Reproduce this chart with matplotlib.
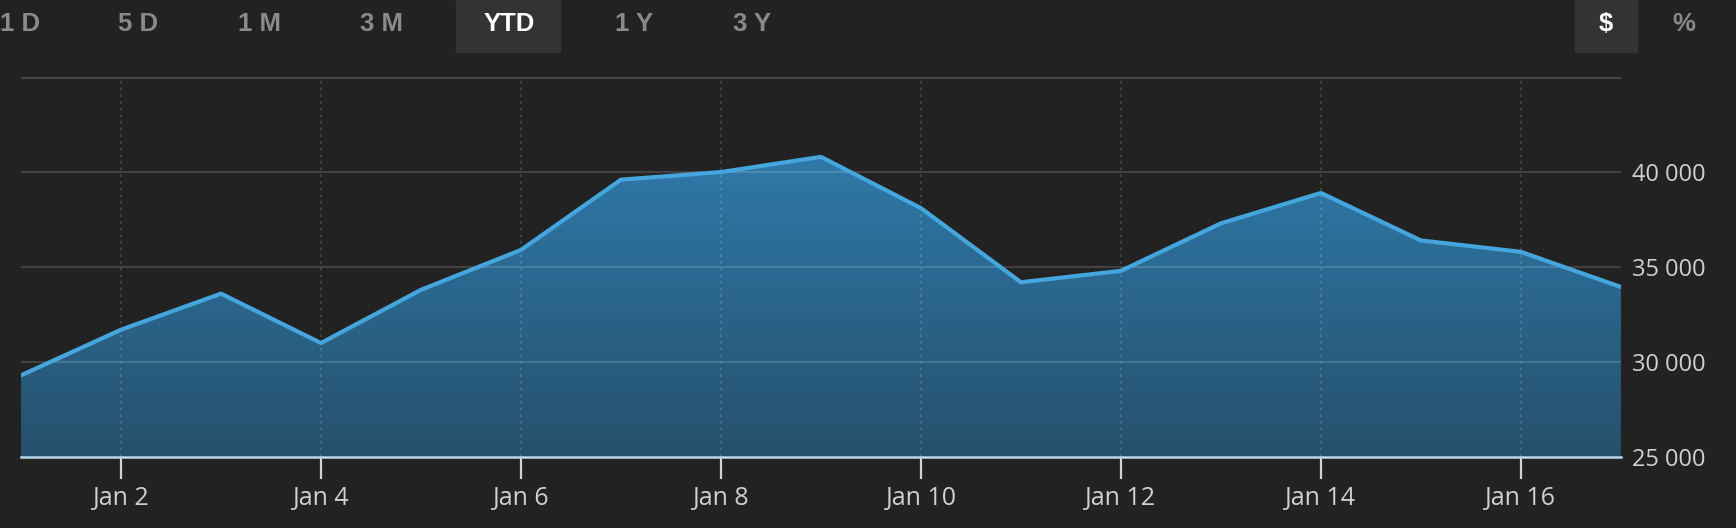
import numpy as np
import pandas as pd
import matplotlib
matplotlib.use('Agg')
import matplotlib.pyplot as plt
import matplotlib.dates as mdates
from matplotlib.colors import LinearSegmentedColormap
from matplotlib.patches import Rectangle

# данные
dates = pd.date_range('2024-01-01', '2024-01-17', freq='D')
values = [29300, 31700, 33600, 31000, 33800, 35900, 39600, 40000, 40800,
          38100, 34200, 34800, 37300, 38900, 36400, 35800, 33950]
tick_days = [2, 4, 6, 8, 10, 12, 14, 16]
y_ticks = [25000, 30000, 35000, 40000, 45000]
range_buttons = ['1 D', '5 D', '1 M', '3 M', 'YTD', '1 Y', '3 Y']
active_range = 'YTD'
unit_buttons = ['$', '%']
active_unit = '$'

bg = '#222222'
line_color = '#45a5dd'

fig = plt.figure(figsize=(17.36, 5.28), dpi=100, facecolor=bg)
ax = fig.add_axes([0.0121, 0.1345, 0.9216, 0.7195])
ax.set_facecolor(bg)

x = mdates.date2num(dates)
ymin, ymax = 25000, 45000
ax.set_xlim(x[0], x[-1])
ax.set_ylim(ymin, ymax)

# градиентная заливка
cmap = LinearSegmentedColormap.from_list('g', ['#26506b', '#2b6a93', '#3284b8'])
grad = np.linspace(0, 1, 256).reshape(-1, 1)
im = ax.imshow(grad, cmap=cmap, aspect='auto', origin='lower',
               extent=[x[0], x[-1], ymin, ymax], zorder=1)
clip = plt.Polygon(np.vstack([np.column_stack([x, values]),
                              [[x[-1], ymin], [x[0], ymin]]]),
                   transform=ax.transData, facecolor='none', edgecolor='none')
ax.add_patch(clip)
im.set_clip_path(clip)

# сетка
for yv in y_ticks[1:-1]:
    ax.axhline(yv, color='white', alpha=0.15, lw=1.5, zorder=2)
ax.axhline(ymax, color='#4a4a4a', lw=2, zorder=2)
tick_pos = [mdates.date2num(pd.Timestamp(2024, 1, d)) for d in tick_days]
for tp in tick_pos:
    ax.axvline(tp, color='white', alpha=0.18, lw=1.2, ls=(0, (1.5, 2.5)), zorder=2)

ax.plot(x, values, color=line_color, lw=3, zorder=3, solid_joinstyle='round')

for s in ['top', 'left', 'right']:
    ax.spines[s].set_visible(False)
ax.spines['bottom'].set_color('#bcd6e8')
ax.spines['bottom'].set_linewidth(1.8)
ax.spines['bottom'].set_zorder(4)

ax.set_xticks(tick_pos)
ax.set_xticklabels([f'Jan {d}' for d in tick_days])
ax.tick_params(axis='x', length=16, width=1.6, color='#c8d6e0', pad=5,
               labelcolor='#d0d0d0', labelsize=18)
for lbl in ax.get_xticklabels():
    lbl.set_fontfamily('Open Sans')

ax.yaxis.tick_right()
ax.set_yticks(y_ticks[:-1])
ax.set_yticklabels([f'{v:,}'.replace(',', ' ') for v in y_ticks[:-1]])
ax.tick_params(axis='y', length=0, pad=8, labelcolor='#d0d0d0', labelsize=17)
for lbl in ax.get_yticklabels():
    lbl.set_fontfamily('Open Sans')

# кнопки сверху
W, H = 1736, 528
range_x = [20, 138, 259, 382, 509, 634, 752]
for label, bx in zip(range_buttons, range_x):
    active = label == active_range
    if active:
        fig.patches.append(Rectangle((456 / W, 1 - 52 / H), 104 / W, 52 / H,
                                     transform=fig.transFigure, color='#333333', zorder=0))
    fig.text(bx / W, 1 - 24 / H, label, ha='center', va='center',
             fontsize=18.5, fontweight='bold', family='Liberation Sans',
             color='white' if active else '#8a8a8a')

unit_x = [1606, 1684]
for label, bx in zip(unit_buttons, unit_x):
    active = label == active_unit
    if active:
        fig.patches.append(Rectangle((1575 / W, 1 - 52 / H), 62 / W, 52 / H,
                                     transform=fig.transFigure, color='#333333', zorder=0))
    fig.text(bx / W, 1 - 24 / H, label, ha='center', va='center',
             fontsize=18.5, fontweight='bold', family='Liberation Sans',
             color='white' if active else '#8a8a8a')

fig.savefig('out.png', dpi=100, facecolor=bg)
